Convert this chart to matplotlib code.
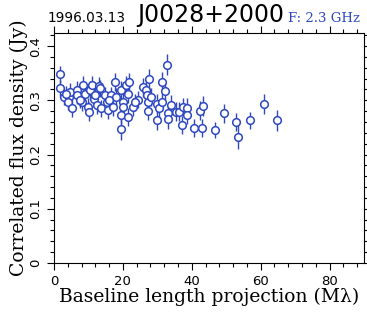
import numpy as np
import matplotlib
matplotlib.use("Agg")
import matplotlib.pyplot as plt
from matplotlib.ticker import MultipleLocator

# baseline projection (Mlambda), correlated flux (Jy), error (Jy)
baseline = [1.7, 1.9, 2.9, 4.4, 4.2, 5.1, 4.8, 6.6, 6.8, 8.0,
            8.3, 9.0, 9.9, 10.2, 10.6, 10.9, 11.6, 12.4, 13.1, 13.5,
            13.8, 14.8, 15.3, 15.7, 16.7, 17.2, 17.7, 18.0, 19.6, 19.9,
            19.6, 19.9, 19.6, 20.9, 21.5, 21.8, 21.5, 22.8, 24.4, 25.7,
            26.7, 27.3, 27.3, 27.0, 27.6, 28.3, 29.8, 29.9, 30.5, 31.5,
            32.2, 32.8, 31.5, 33.1, 33.1, 34.1, 35.4, 36.3, 37.5, 38.6,
            38.5, 37.3, 40.6, 43.1, 42.3, 43.3, 46.7, 49.4, 52.7, 53.4,
            56.8, 61.0, 64.8, 3.5, 7.5, 12.0, 16.0, 23.5]
flux = [0.348, 0.322, 0.306, 0.306, 0.297, 0.285, 0.316, 0.319, 0.309, 0.297,
        0.328, 0.312, 0.288, 0.279, 0.319, 0.329, 0.303, 0.291, 0.326, 0.322,
        0.285, 0.309, 0.297, 0.282, 0.309, 0.287, 0.334, 0.306, 0.319, 0.297,
        0.273, 0.287, 0.248, 0.328, 0.311, 0.334, 0.269, 0.288, 0.301, 0.324,
        0.319, 0.297, 0.280, 0.309, 0.340, 0.306, 0.294, 0.263, 0.285, 0.334,
        0.317, 0.366, 0.297, 0.276, 0.265, 0.291, 0.279, 0.279, 0.288, 0.286,
        0.273, 0.254, 0.249, 0.249, 0.281, 0.290, 0.245, 0.276, 0.260, 0.233,
        0.263, 0.293, 0.263, 0.312, 0.300, 0.310, 0.300, 0.296]
err = [0.016, 0.015, 0.015, 0.016, 0.015, 0.016, 0.016, 0.017, 0.015, 0.016,
       0.016, 0.016, 0.016, 0.017, 0.017, 0.016, 0.015, 0.016, 0.017, 0.016,
       0.016, 0.016, 0.015, 0.016, 0.016, 0.016, 0.017, 0.016, 0.017, 0.016,
       0.017, 0.016, 0.022, 0.017, 0.016, 0.017, 0.017, 0.016, 0.016, 0.017,
       0.017, 0.016, 0.017, 0.016, 0.018, 0.016, 0.017, 0.018, 0.016, 0.018,
       0.017, 0.020, 0.017, 0.018, 0.018, 0.018, 0.017, 0.017, 0.017, 0.018,
       0.017, 0.017, 0.016, 0.017, 0.018, 0.018, 0.015, 0.018, 0.016, 0.022,
       0.016, 0.018, 0.020, 0.015, 0.015, 0.015, 0.015, 0.015]

blue = "#2f48c0"

fig = plt.figure(figsize=(3.67, 3.12), dpi=100)
ax = fig.add_axes([0.147, 0.157, 0.845, 0.737])

ax.errorbar(baseline, flux, yerr=err, fmt="o", ms=5.5, mfc="white", mec=blue,
            mew=1.1, ecolor=blue, elinewidth=1.0, capsize=0)

ax.set_xlim(0, 90)
ax.set_ylim(0, 0.424)
ax.xaxis.set_major_locator(MultipleLocator(20))
ax.xaxis.set_minor_locator(MultipleLocator(4))
ax.yaxis.set_major_locator(MultipleLocator(0.1))
ax.yaxis.set_minor_locator(MultipleLocator(0.02))
ax.tick_params(which="both", direction="out", top=True, right=True,
               labelsize=9.5)
ax.tick_params(which="major", length=5, width=0.8)
ax.tick_params(which="minor", length=3, width=0.8)
ax.set_yticks([0, 0.1, 0.2, 0.3, 0.4])
ax.set_yticklabels(["0", "0.1", "0.2", "0.3", "0.4"], rotation=90, va="center")

ax.set_xlabel("Baseline length projection (M\u03bb)", family="DejaVu Serif",
              fontsize=13.5, labelpad=0)
ax.set_ylabel("Correlated flux density (Jy)", family="DejaVu Serif",
              fontsize=13.5, labelpad=1)

fig.text(0.13, 0.93, "1996.03.13", fontsize=9.8, ha="left", va="baseline")
fig.text(0.373, 0.93, "J0028+2000", fontsize=17, ha="left", va="baseline")
fig.text(0.785, 0.93, "F: 2.3 GHz", fontsize=9.5, color=blue,
         family="DejaVu Serif", ha="left", va="baseline")

fig.savefig("out.png", dpi=100)
